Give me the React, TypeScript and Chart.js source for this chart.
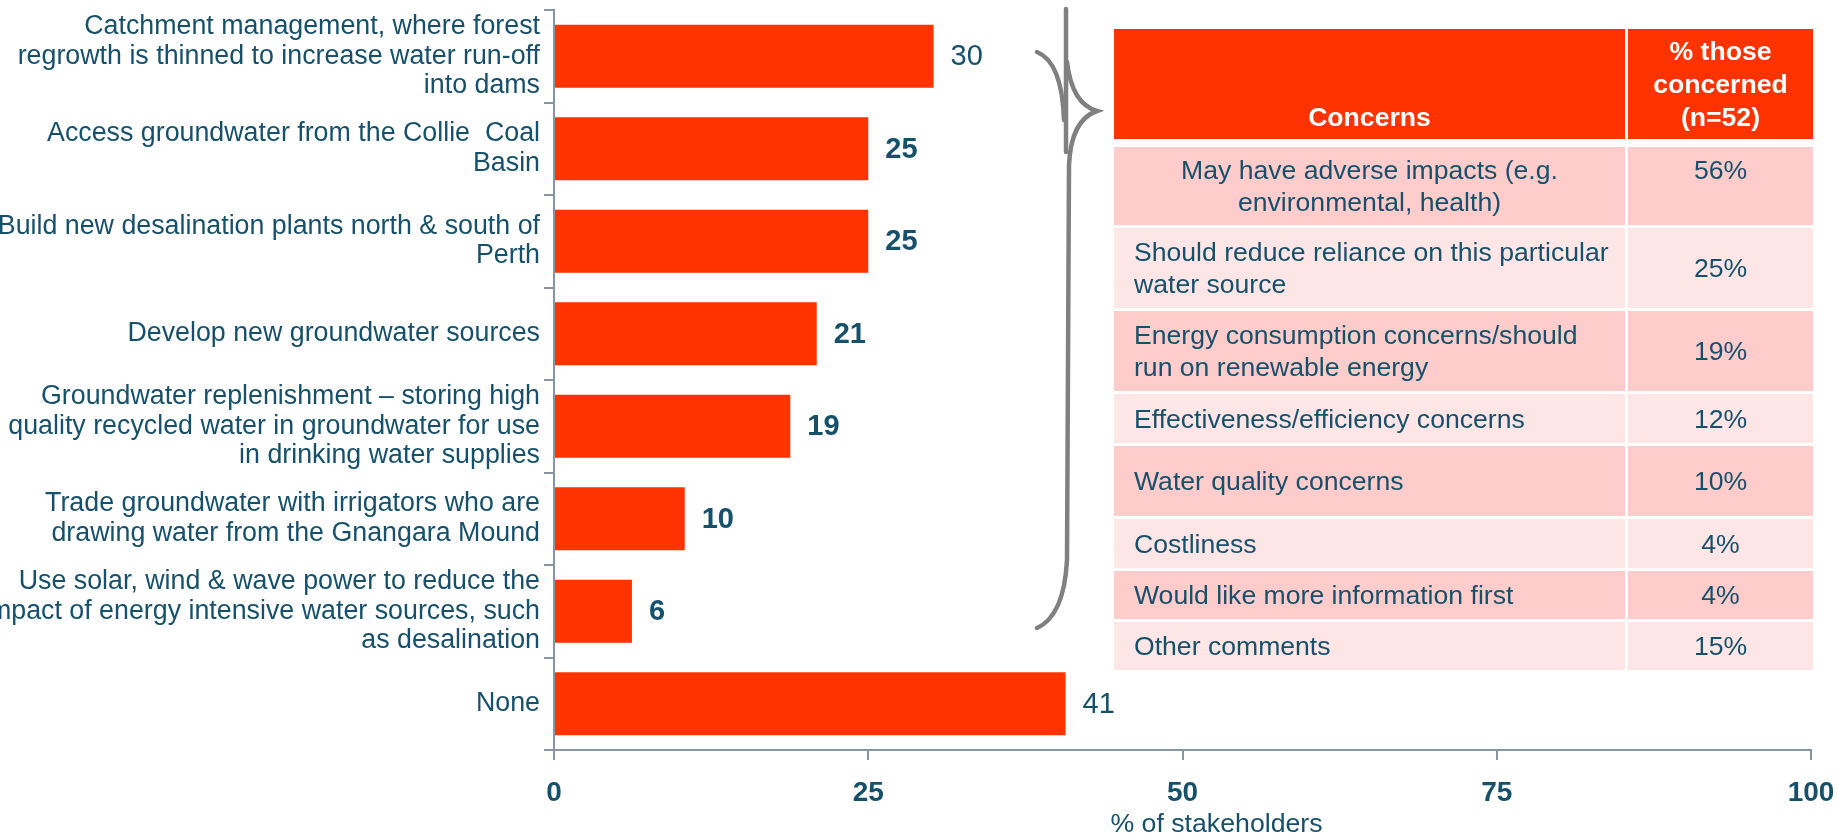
import React, { useEffect, useRef } from "react";
import { Chart, registerables } from "chart.js";

Chart.register(...registerables);

// ---------- data ----------
const categories: string[][] = [
  ["Catchment management, where forest", "regrowth is thinned to increase water run-off", "into dams"],
  ["Access groundwater from the Collie  Coal", "Basin"],
  ["Build new desalination plants north & south of", "Perth"],
  ["Develop new groundwater sources"],
  ["Groundwater replenishment \u2013 storing high", "quality recycled water in groundwater for use", "in drinking water supplies"],
  ["Trade groundwater with irrigators who are", "drawing water from the Gnangara Mound"],
  ["Use solar, wind & wave power to reduce the", "impact of energy intensive water sources, such", "as desalination"],
  ["None"],
];
// bar lengths as measured; labels show the rounded figures
const values: number[] = [30.2, 25, 25, 20.9, 18.8, 10.4, 6.2, 40.7];
const xTicks: number[] = [0, 25, 50, 75, 100];
const xAxisTitle = "% of stakeholders";

const tableHeader: string[] = ["Concerns", "% those concerned (n=52)"];
const concerns: string[] = [
  "May have adverse impacts (e.g. environmental, health)",
  "Should reduce reliance on this particular water source",
  "Energy consumption concerns/should run on renewable energy",
  "Effectiveness/efficiency concerns",
  "Water quality concerns",
  "Costliness",
  "Would like more information first",
  "Other comments",
];
const concernPct: string[] = ["56%", "25%", "19%", "12%", "10%", "4%", "4%", "15%"];

// ---------- style ----------
const FONT = "'Liberation Sans', Arial, Helvetica, sans-serif";
const TEXT = "#16506a";
const BAR = "#ff3300";
const AXIS = "#8796a2";
const ROW_DARK = "#ffcccc";
const ROW_LIGHT = "#ffe6e6";
const boldValueIdx = new Set([1, 2, 3, 4, 5, 6]);
const rowHeights = [78, 80, 80, 49, 70, 49, 48, 48];

const valueLabels = {
  id: "valueLabels",
  afterDatasetsDraw(chart: any) {
    const ctx = chart.ctx;
    const meta = chart.getDatasetMeta(0);
    ctx.save();
    ctx.fillStyle = TEXT;
    ctx.textBaseline = "middle";
    ctx.textAlign = "left";
    meta.data.forEach((bar: any, i: number) => {
      ctx.font = `${boldValueIdx.has(i) ? "bold " : ""}29px ${FONT}`;
      ctx.fillText(String(Math.round(values[i])), bar.x + 17, bar.y + 1);
    });
    ctx.restore();
  },
};

const xTitle = {
  id: "xTitle",
  afterDraw(chart: any) {
    const ctx = chart.ctx;
    const a = chart.chartArea;
    ctx.save();
    ctx.fillStyle = TEXT;
    ctx.font = `26.7px ${FONT}`;
    ctx.textAlign = "center";
    ctx.textBaseline = "middle";
    ctx.fillText(xAxisTitle, (a.left + a.right) / 2 + 34, a.bottom + 75);
    ctx.restore();
  },
};

export default function App() {
  const ref = useRef<HTMLCanvasElement | null>(null);

  useEffect(() => {
    if (!ref.current) return;
    const chart = new Chart(ref.current, {
      type: "bar",
      data: {
        labels: categories as any,
        datasets: [
          {
            data: values,
            backgroundColor: BAR,
            borderWidth: 0,
            barPercentage: 0.68,
            categoryPercentage: 1,
          },
        ],
      },
      options: {
        indexAxis: "y",
        animation: false,
        responsive: false,
        layout: { padding: { top: 10, right: 27, bottom: 0, left: 0 } },
        plugins: { legend: { display: false }, tooltip: { enabled: false } },
        scales: {
          x: {
            type: "linear",
            min: 0,
            max: 100,
            afterBuildTicks: (s: any) => {
              s.ticks = xTicks.map((v) => ({ value: v }));
            },
            afterFit: (s: any) => {
              s.height = 85;
              s.paddingLeft = 0;
              s.paddingRight = 0;
            },
            grid: { drawOnChartArea: false, drawTicks: true, tickLength: 10, color: AXIS, lineWidth: 2 },
            border: { color: AXIS, width: 2 },
            ticks: {
              color: TEXT,
              font: { family: FONT, size: 28, weight: "bold" },
              padding: 16,
              maxRotation: 0,
              autoSkip: false,
            },
          },
          y: {
            afterFit: (s: any) => {
              s.width = 554;
              s.paddingTop = 0;
              s.paddingBottom = 0;
            },
            grid: { drawOnChartArea: false, drawTicks: true, tickLength: 10, color: AXIS, lineWidth: 2 },
            border: { color: AXIS, width: 2 },
            ticks: {
              color: TEXT,
              font: { family: FONT, size: 26.8, lineHeight: 1.1 },
              padding: 4,
              autoSkip: false,
            },
          },
        },
      } as any,
      plugins: [valueLabels, xTitle],
    });
    return () => chart.destroy();
  }, []);

  const cellBase: React.CSSProperties = {
    fontFamily: FONT,
    fontSize: 26.6,
    lineHeight: "32px",
    color: TEXT,
    display: "flex",
    alignItems: "center",
    boxSizing: "border-box",
  };

  return (
    <div style={{ position: "fixed", left: 0, top: 0, width: 1838, height: 835, background: "#fff", overflow: "hidden" }}>
      <canvas ref={ref} width={1838} height={835} style={{ position: "absolute", left: 0, top: 0, width: 1838, height: 835 }} />
      <svg
        width={1838}
        height={835}
        style={{ position: "absolute", left: 0, top: 0, pointerEvents: "none" }}
      >
        <g fill="none" stroke="#808080" strokeWidth={4.5} strokeLinecap="round">
          <path d="M 1066 9 L 1066 152" />
          <path d="M 1037 52 Q 1062 62 1064 120" />
          <path d="M 1067 62 Q 1072 104 1097 111 Q 1071 120 1069 165 L 1067 560 Q 1064 616 1037 628" />
        </g>
      </svg>
      <div
        style={{
          position: "absolute",
          left: 1114,
          top: 29,
          width: 699,
          display: "grid",
          gridTemplateColumns: "511px 185px",
          columnGap: 3,
        }}
      >
        <div
          style={{
            ...cellBase,
            background: BAR,
            color: "#fff",
            fontWeight: "bold",
            height: 110,
            alignItems: "flex-end",
            justifyContent: "center",
            paddingBottom: 5,
            lineHeight: "33px",
          }}
        >
          {tableHeader[0]}
        </div>
        <div
          style={{
            ...cellBase,
            background: BAR,
            color: "#fff",
            fontWeight: "bold",
            height: 110,
            justifyContent: "center",
            textAlign: "center",
            lineHeight: "33px",
            padding: "0 10px",
          }}
        >
          {tableHeader[1]}
        </div>
        {concerns.map((c, i) => {
          const bg = i % 2 === 0 ? ROW_DARK : ROW_LIGHT;
          const mt = i === 0 ? 8 : 3;
          return (
            <React.Fragment key={i}>
              <div
                style={{
                  ...cellBase,
                  background: bg,
                  height: rowHeights[i],
                  marginTop: mt,
                  justifyContent: i === 0 ? "center" : "flex-start",
                  textAlign: i === 0 ? "center" : "left",
                  padding: i === 0 ? "0 60px" : "0 14px 0 20px",
                }}
              >
                {c}
              </div>
              <div
                style={{
                  ...cellBase,
                  background: bg,
                  height: rowHeights[i],
                  marginTop: mt,
                  justifyContent: "center",
                  alignItems: i === 0 ? "flex-start" : "center",
                  paddingTop: i === 0 ? 7 : 0,
                }}
              >
                {concernPct[i]}
              </div>
            </React.Fragment>
          );
        })}
      </div>
    </div>
  );
}
